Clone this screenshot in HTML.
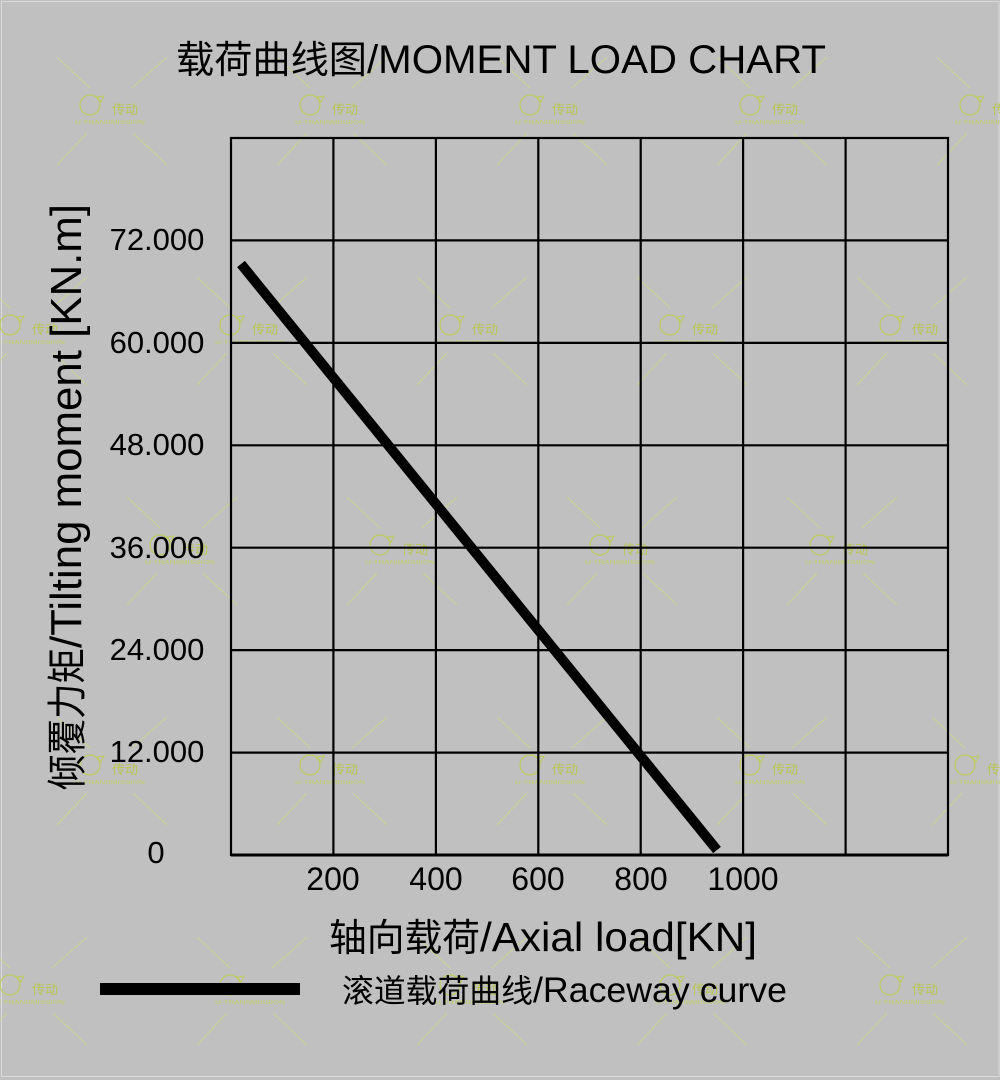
<!DOCTYPE html>
<html>
<head>
<meta charset="utf-8">
<style>
html,body{margin:0;padding:0;background:#c0c0c0;}
svg{display:block;}
</style>
</head>
<body>
<svg width="1000" height="1080" viewBox="0 0 1000 1080" xmlns="http://www.w3.org/2000/svg">
<defs>
<g id="wm">
  <g stroke="#cdd68a" stroke-width="1" fill="none" opacity="0.85">
    <line x1="-53" y1="-53" x2="-20" y2="-22"/>
    <line x1="57" y1="-53" x2="22" y2="-22"/>
    <line x1="-23" y1="23" x2="-53" y2="55"/>
    <line x1="23" y1="23" x2="57" y2="55"/>
  </g>
  <circle cx="-20" cy="-5" r="10" fill="none" stroke="#bfcb5e" stroke-width="1.2"/>
  <path d="M-13,-13 L-6,-14 L-9,-8 Z" fill="none" stroke="#bfcb5e" stroke-width="1"/>
  <text x="2" y="4" font-family="Noto Sans CJK SC, sans-serif" font-size="13" fill="#b9c650">传动</text>
  <text x="-35" y="14" font-family="Liberation Sans, sans-serif" font-size="5" fill="#c4cf6a" textLength="70" lengthAdjust="spacingAndGlyphs">U-TRANSMISSION</text>
</g>
</defs>

<rect x="0" y="0" width="1000" height="1080" fill="#c0c0c0"/>
<rect x="1.5" y="1.5" width="997.5" height="1075" fill="none" stroke="#dadada" stroke-width="1"/>

<!-- watermarks -->
<use href="#wm" x="110" y="110"/>
<use href="#wm" x="330" y="110"/>
<use href="#wm" x="550" y="110"/>
<use href="#wm" x="770" y="110"/>
<use href="#wm" x="990" y="110"/>
<use href="#wm" x="30" y="330"/>
<use href="#wm" x="250" y="330"/>
<use href="#wm" x="470" y="330"/>
<use href="#wm" x="690" y="330"/>
<use href="#wm" x="910" y="330"/>
<use href="#wm" x="180" y="550"/>
<use href="#wm" x="400" y="550"/>
<use href="#wm" x="620" y="550"/>
<use href="#wm" x="840" y="550"/>
<use href="#wm" x="110" y="770"/>
<use href="#wm" x="330" y="770"/>
<use href="#wm" x="550" y="770"/>
<use href="#wm" x="770" y="770"/>
<use href="#wm" x="985" y="770"/>
<use href="#wm" x="30" y="990"/>
<use href="#wm" x="250" y="990"/>
<use href="#wm" x="470" y="990"/>
<use href="#wm" x="690" y="990"/>
<use href="#wm" x="910" y="990"/>

<!-- title -->
<text x="176" y="73" font-family="Noto Sans CJK SC, sans-serif" font-size="38" fill="#000" textLength="191" lengthAdjust="spacingAndGlyphs">载荷曲线图</text>
<text x="367" y="73" font-family="Liberation Sans, sans-serif" font-size="40" fill="#000" textLength="459" lengthAdjust="spacingAndGlyphs">/MOMENT LOAD CHART</text>

<!-- grid -->
<g stroke="#000" stroke-width="2.2" fill="none">
  <line x1="333.4" y1="138" x2="333.4" y2="855"/>
  <line x1="435.9" y1="138" x2="435.9" y2="855"/>
  <line x1="538.3" y1="138" x2="538.3" y2="855"/>
  <line x1="640.7" y1="138" x2="640.7" y2="855"/>
  <line x1="743.1" y1="138" x2="743.1" y2="855"/>
  <line x1="845.6" y1="138" x2="845.6" y2="855"/>
  <line x1="231" y1="240.4" x2="948" y2="240.4"/>
  <line x1="231" y1="342.9" x2="948" y2="342.9"/>
  <line x1="231" y1="445.3" x2="948" y2="445.3"/>
  <line x1="231" y1="547.7" x2="948" y2="547.7"/>
  <line x1="231" y1="650.1" x2="948" y2="650.1"/>
  <line x1="231" y1="752.6" x2="948" y2="752.6"/>
  <rect x="231" y="138" width="717" height="717"/>
</g>
<line x1="231" y1="855" x2="948" y2="855" stroke="#000" stroke-width="3"/>

<!-- curve -->
<line x1="241" y1="264" x2="717" y2="850" stroke="#000" stroke-width="10" stroke-linecap="butt"/>

<!-- y tick labels -->
<g font-family="Liberation Sans, sans-serif" font-size="31" fill="#000" text-anchor="middle">
  <text x="157" y="250">72.000</text>
  <text x="157" y="353">60.000</text>
  <text x="157" y="455">48.000</text>
  <text x="157" y="558">36.000</text>
  <text x="157" y="660">24.000</text>
  <text x="157" y="762">12.000</text>
  <text x="156" y="863">0</text>
</g>

<!-- x tick labels -->
<g font-family="Liberation Sans, sans-serif" font-size="32" fill="#000" text-anchor="middle">
  <text x="333" y="890">200</text>
  <text x="436" y="890">400</text>
  <text x="538" y="890">600</text>
  <text x="641" y="890">800</text>
  <text x="743" y="890">1000</text>
</g>

<!-- y axis title -->
<g transform="translate(81,790) rotate(-90)">
  <text x="0" y="0" font-family="Noto Sans CJK SC, sans-serif" font-size="40" fill="#000" textLength="142" lengthAdjust="spacingAndGlyphs">倾覆力矩</text>
  <text x="142" y="0" font-family="Liberation Sans, sans-serif" font-size="44" fill="#000" textLength="444" lengthAdjust="spacingAndGlyphs">/Tilting moment [KN.m]</text>
</g>

<!-- x axis title -->
<text x="329" y="951" font-family="Noto Sans CJK SC, sans-serif" font-size="38" fill="#000" textLength="151" lengthAdjust="spacingAndGlyphs">轴向载荷</text>
<text x="480" y="951" font-family="Liberation Sans, sans-serif" font-size="41" fill="#000" textLength="277" lengthAdjust="spacingAndGlyphs">/Axial load[KN]</text>

<!-- legend -->
<rect x="100" y="983" width="200" height="12" fill="#000"/>
<text x="342" y="1002" font-family="Noto Sans CJK SC, sans-serif" font-size="32" fill="#000" textLength="191" lengthAdjust="spacingAndGlyphs">滚道载荷曲线</text>
<text x="533" y="1002" font-family="Liberation Sans, sans-serif" font-size="35" fill="#000" textLength="254" lengthAdjust="spacingAndGlyphs">/Raceway curve</text>
</svg>
</body>
</html>
